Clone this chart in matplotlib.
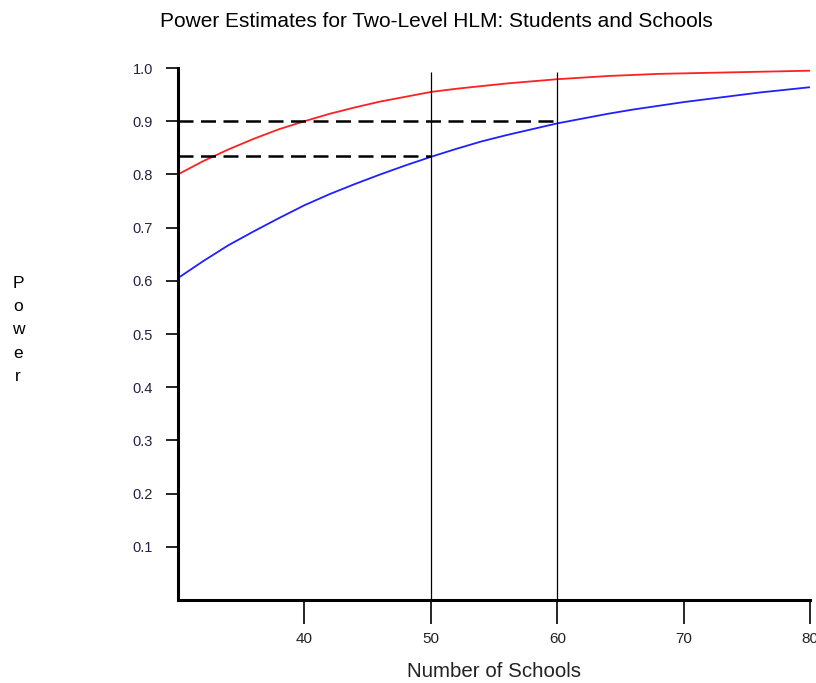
import numpy as np
import matplotlib.pyplot as plt

plt.rcParams['font.family'] = ['Liberation Sans', 'DejaVu Sans']

# Number of schools
schools = [30, 32, 34, 36, 38, 40, 42, 44, 46, 48, 50, 52, 54, 56, 58,
           60, 62, 64, 66, 68, 70, 72, 74, 76, 78, 80]

# Power estimates
power_red = [0.800, 0.825, 0.847, 0.867, 0.885, 0.900, 0.914, 0.926, 0.937, 0.946,
             0.955, 0.961, 0.966, 0.971, 0.975, 0.979, 0.982, 0.985, 0.987, 0.989,
             0.990, 0.991, 0.992, 0.993, 0.994, 0.995]
power_blue = [0.605, 0.637, 0.667, 0.693, 0.718, 0.742, 0.763, 0.782, 0.800, 0.817,
              0.833, 0.848, 0.862, 0.874, 0.885, 0.896, 0.905, 0.914, 0.922, 0.929,
              0.936, 0.942, 0.948, 0.954, 0.959, 0.964]

# Reference lines
ref_x = [50, 60]
ref_power = [0.835, 0.900]

x_ticks = [40, 50, 60, 70, 80]
y_ticks = [0.1, 0.2, 0.3, 0.4, 0.5, 0.6, 0.7, 0.8, 0.9, 1.0]

fig = plt.figure(figsize=(8.16, 6.83), dpi=100)
ax = fig.add_axes([0.218, 0.1215, 0.775, 0.7789])

ax.plot(schools, power_red, color='#ff2020', linewidth=1.3)
ax.plot(schools, power_blue, color='#2020ff', linewidth=1.3)

# vertical markers at 50 and 60 schools
for xv in ref_x:
    ax.vlines(xv, 0, 0.993, color='black', linewidth=0.9)

# dashed horizontal lines
ax.hlines(ref_power[1], 30, ref_x[1], color='black', linewidth=1.8,
          linestyles=(0, (6, 3)))
ax.hlines(ref_power[0], 30, ref_x[0], color='black', linewidth=1.8,
          linestyles=(0, (6, 3)))

ax.set_xlim(30, 80)
ax.set_ylim(0, 1.0)
ax.set_xticks(x_ticks)
ax.set_yticks(y_ticks)
ax.set_yticklabels([f'{v:.1f}' for v in y_ticks])

for side in ['top', 'right']:
    ax.spines[side].set_visible(False)
for side in ['left', 'bottom']:
    ax.spines[side].set_linewidth(2.2)

ax.tick_params(axis='y', direction='out', length=9, width=1.2, labelsize=10.5, pad=9,
               labelcolor='#222244')
ax.tick_params(axis='x', direction='out', length=17, width=1.2, labelsize=11, pad=6,
               labelcolor='#222222')

ax.set_xlabel('Number of Schools', fontsize=14.8, color='#222222', va='center')
ax.xaxis.set_label_coords(0.5, -0.135)
fig.text(0.535, 0.969, 'Power Estimates for Two-Level HLM: Students and Schools',
         ha='center', va='center', fontsize=15)
fig.text(0.022, 0.517, 'P\no\nw\ne\nr', ha='center', va='center', fontsize=12.5,
         linespacing=1.68)

fig.savefig('out.png', dpi=100)
